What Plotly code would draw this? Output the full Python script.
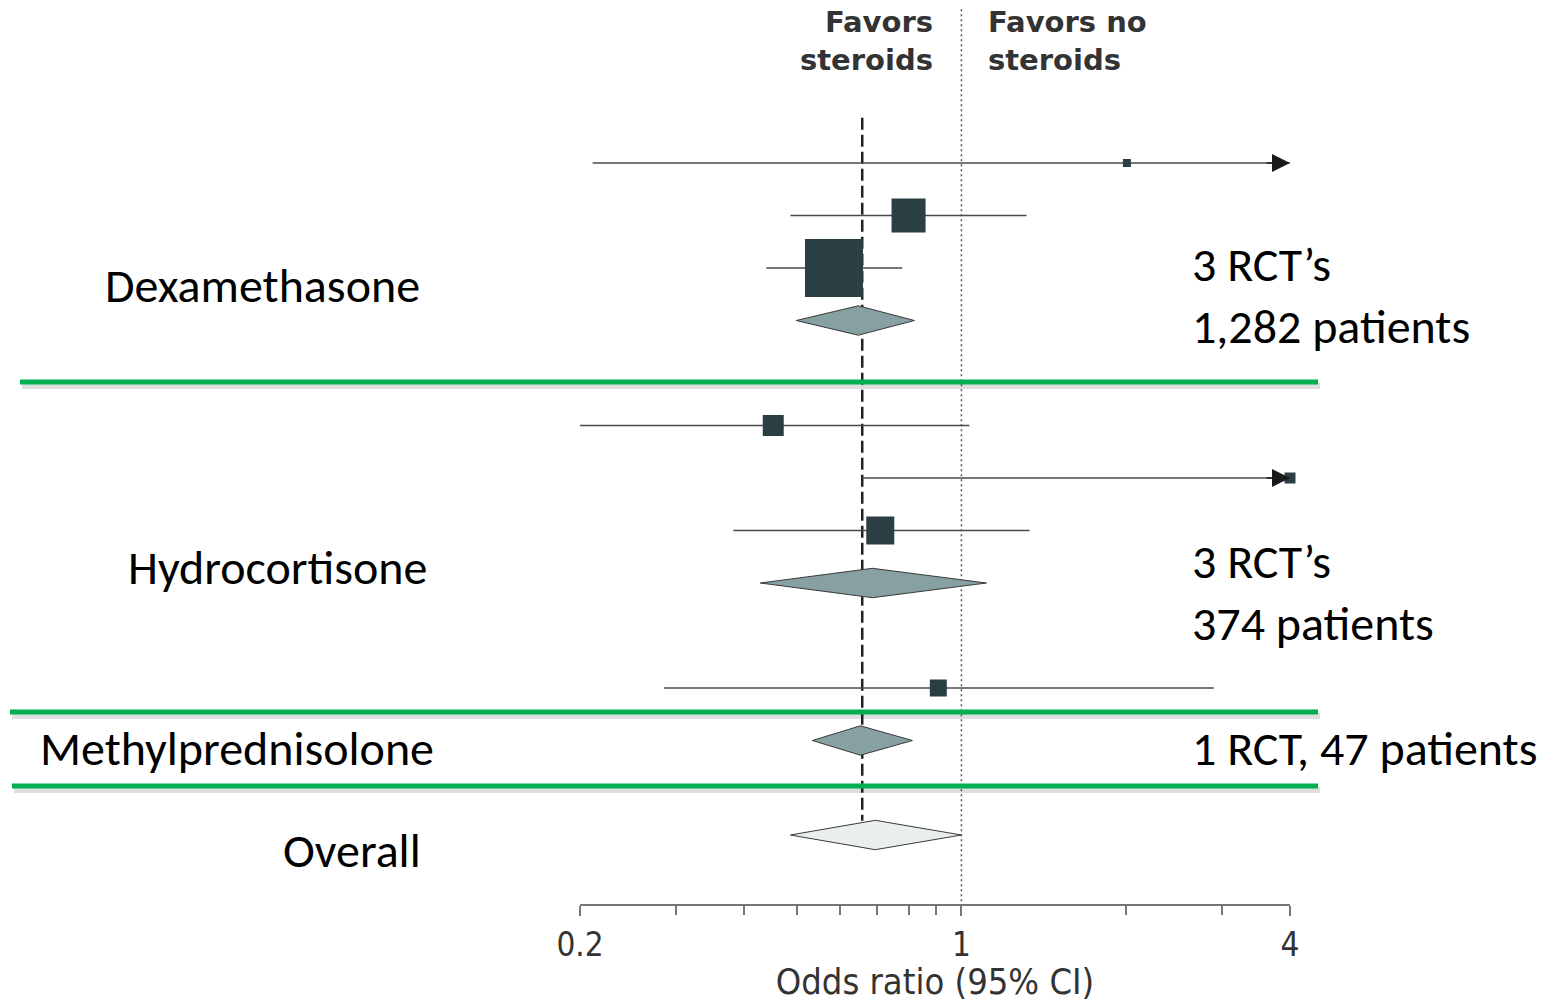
import numpy as np
import plotly.graph_objects as go

W, H = 1541, 1002

# ---------------- data ----------------
# individual studies (row index, odds ratio, 95% CI)
study_rows = [0, 1, 2, 5, 6, 7, 10]
study_or = [2.01, 0.80, 0.584, 0.452, 4.0, 0.710, 0.907]
study_lo = [0.211, 0.486, 0.439, 0.20, 0.658, 0.382, 0.285]
study_hi = [6.0, 1.316, 0.779, 1.034, 12.0, 1.333, 2.90]

# pooled estimates (row index, odds ratio, 95% CI)
pooled_rows = [3, 8, 11, 12.8]
pooled_or = [0.647, 0.687, 0.653, 0.695]
pooled_lo = [0.498, 0.428, 0.533, 0.486]
pooled_hi = [0.820, 1.111, 0.813, 1.0]

overall_line = 0.658
null_value = 1.0

tick_major = [0.2, 1, 4]
tick_major_text = ["0.2", "1", "4"]
tick_minor = [0.3, 0.4, 0.5, 0.6, 0.7, 0.8, 0.9, 2, 3]

group_labels = ["Dexamethasone", "Hydrocortisone", "Methylprednisolone", "Overall"]
group_info = ["3 RCT’s<br>1,282 patients", "3 RCT’s<br>374 patients", "1 RCT, 47 patients"]
header_left = "Favors<br>steroids"
header_right = "Favors no<br>steroids"
axis_title = "Odds ratio (95% CI)"

# ---------------- styles ----------------
square_size = [8, 34, 58, 21, 11, 28, 17]
x_min, x_max = 0.2, 4
sq_color = "#2b3e44"
diamond_fill = ["#87a0a2", "#87a0a2", "#87a0a2", "#e9efef"]
text_font = "Carlito, Calibri, Lato, sans-serif"
axis_font = "Liberation Sans Narrow, DejaVu Sans Condensed, Arial Narrow, sans-serif"
head_font = "DejaVu Sans, sans-serif"

fig = go.Figure()

# reference lines
fig.add_trace(go.Scatter(x=[null_value, null_value], y=[-2.93, 14.1], mode="lines",
                         line=dict(color="#555555", width=1.5, dash="2px,3px"),
                         hoverinfo="skip", showlegend=False))
fig.add_trace(go.Scatter(x=[overall_line, overall_line], y=[-0.86, pooled_rows[-1] - 0.27],
                         mode="lines", line=dict(color="#222222", width=2.5, dash="12px,5px"),
                         hoverinfo="skip", showlegend=False))

# CI lines
for r, lo, hi in zip(study_rows, study_lo, study_hi):
    fig.add_trace(go.Scatter(x=[max(lo, x_min), min(hi, x_max)], y=[r, r], mode="lines",
                             line=dict(color="#4a4a4a", width=1.5),
                             hoverinfo="skip", showlegend=False))

# arrows for CIs beyond axis
for r, hi in zip(study_rows, study_hi):
    if hi > x_max:
        fig.add_annotation(x=np.log10(x_max), y=r, ax=np.log10(x_max * 0.9), ay=r,
                           xref="x", yref="y", axref="x", ayref="y", text="",
                           showarrow=True, arrowhead=2, arrowsize=2.4, arrowwidth=1.5,
                           arrowcolor="#1a1a1a", standoff=0)

# study squares
fig.add_trace(go.Scatter(x=study_or, y=study_rows, mode="markers",
                         marker=dict(symbol="square", size=square_size, color=sq_color,
                                     opacity=1, line=dict(width=0)),
                         cliponaxis=False, hoverinfo="skip", showlegend=False))

# pooled diamonds
dh = 0.28
for r, m, lo, hi, fc in zip(pooled_rows, pooled_or, pooled_lo, pooled_hi, diamond_fill):
    fig.add_trace(go.Scatter(x=[lo, m, hi, m, lo], y=[r, r - dh, r, r + dh, r],
                             mode="lines", fill="toself", fillcolor=fc,
                             line=dict(color="#3a3a3a", width=1),
                             hoverinfo="skip", showlegend=False))

# green separators with shadows (paper coordinates in pixels)
def px(x):
    return x / W

def py(y):
    return 1 - y / H

for (x0, x1, y) in [(20, 1318, 382), (10, 1318, 712), (12, 1318, 786)]:
    fig.add_shape(type="line", xref="paper", yref="paper", x0=px(x0 + 2), x1=px(x1 + 2),
                  y0=py(y + 4), y1=py(y + 4), line=dict(color="rgba(0,0,0,0.13)", width=6),
                  layer="above")
    fig.add_shape(type="line", xref="paper", yref="paper", x0=px(x0), x1=px(x1),
                  y0=py(y), y1=py(y), line=dict(color="#00b050", width=5), layer="above")

# header
fig.add_annotation(xref="paper", yref="paper", x=px(935), y=py(41), xanchor="right",
                   yanchor="middle", align="right", showarrow=False, text=header_left,
                   font=dict(family=head_font, size=29, color="#333333", weight="bold"))
fig.add_annotation(xref="paper", yref="paper", x=px(986), y=py(41), xanchor="left",
                   yanchor="middle", align="left", showarrow=False, text=header_right,
                   font=dict(family=head_font, size=29, color="#333333", weight="bold"))

# group labels
label_pos = [(103, 285), (126, 567), (38, 748), (281, 850)]
for t, (x, y) in zip(group_labels, label_pos):
    fig.add_annotation(xref="paper", yref="paper", x=px(x), y=py(y), xanchor="left",
                       yanchor="middle", showarrow=False, text=t,
                       font=dict(family=text_font, size=48, color="#000000"))

info_pos = [(1190, 295), (1190, 592), (1190, 748)]
for t, (x, y) in zip(group_info, info_pos):
    fig.add_annotation(xref="paper", yref="paper", x=px(x), y=py(y), xanchor="left",
                       yanchor="middle", align="left", showarrow=False, text=t,
                       font=dict(family=text_font, size=48, color="#000000"))

fig.update_layout(
    width=W, height=H,
    margin=dict(l=0, r=0, t=0, b=0, autoexpand=False),
    paper_bgcolor="white", plot_bgcolor="white",
    xaxis=dict(
        type="log", domain=[580 / W, 1290 / W], range=[np.log10(x_min), np.log10(x_max)],
        automargin=False,
        tickvals=tick_major, ticktext=tick_major_text,
        ticks="outside", ticklen=10, tickwidth=1.5, tickcolor="#777777",
        minor=dict(tickvals=tick_minor, ticks="outside", ticklen=9, tickwidth=1.5,
                   tickcolor="#777777", showgrid=False),
        showline=True, linecolor="#777777", linewidth=2,
        showgrid=False, zeroline=False,
        tickfont=dict(family=axis_font, size=33, color="#333333"),
        title=dict(text=axis_title, standoff=2,
                   font=dict(family=axis_font, size=36, color="#333333")),
        fixedrange=True,
    ),
    yaxis=dict(
        domain=[98 / H, 1], range=[(904 - 163) / 52.5, -163 / 52.5],
        visible=False, automargin=False, fixedrange=True,
    ),
    showlegend=False,
)

fig.write_html("out.html")
